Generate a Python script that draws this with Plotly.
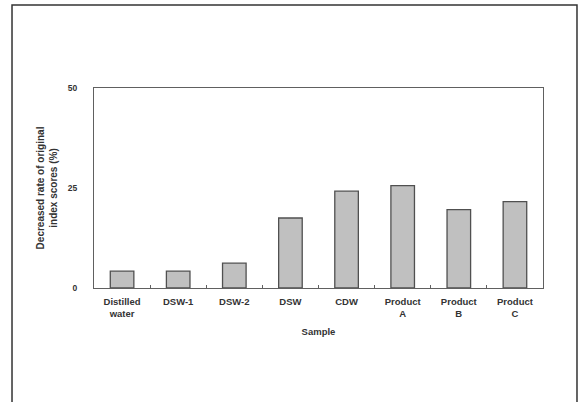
import plotly.graph_objects as go

categories = ["Distilled<br>water", "DSW-1", "DSW-2", "DSW", "CDW",
              "Product<br>A", "Product<br>B", "Product<br>C"]
values = [4.2, 4.2, 6.2, 17.5, 24.2, 25.6, 19.6, 21.6]
y_ticks = [0, 25, 50]

fig = go.Figure(go.Bar(
    x=categories, y=values, width=0.42,
    marker=dict(color="#c0c0c0", line=dict(color="#505050", width=1.3)),
))

font = dict(family="Liberation Sans, Arial, sans-serif", size=9, color="#333333")

fig.update_layout(
    width=579, height=402,
    margin=dict(l=94, r=36, t=88, b=114),
    paper_bgcolor="white", plot_bgcolor="white",
    showlegend=False,
    font=font,
    xaxis=dict(
        title=dict(text="<b>Sample</b>", font=dict(size=9.5), standoff=10),
        showline=True, linecolor="#606060", linewidth=1.3, mirror=True,
        ticks="inside", ticklen=3, tickcolor="#606060", tickson="boundaries",
        tickfont=dict(size=9.5), ticklabelstandoff=4,
        ticktext=[f"<b>{c}</b>" for c in categories], tickvals=categories,
    ),
    yaxis=dict(
        title=dict(text="<b>Decreased rate of original<br>index scores (%)</b>", font=dict(size=10), standoff=8),
        range=[0, 50], tickvals=y_ticks, ticktext=[f"<b>{t}</b>" for t in y_ticks],
        showline=True, linecolor="#606060", linewidth=1.3, mirror=True,
        ticks="", showgrid=False, zeroline=False,
        tickfont=dict(size=8.5), ticklabelstandoff=14,
    ),
    shapes=[dict(
        type="path", xref="paper", yref="paper",
        path="M -0.1826,-0.7 L -0.1826,1.415 L 1.0757,1.415 L 1.0757,-0.7",
        line=dict(color="#333333", width=1.5),
    )],
)

fig.write_html("out.html", config={"displayModeBar": False},
               post_script="document.body.style.margin='0';document.body.style.overflow='hidden';")
